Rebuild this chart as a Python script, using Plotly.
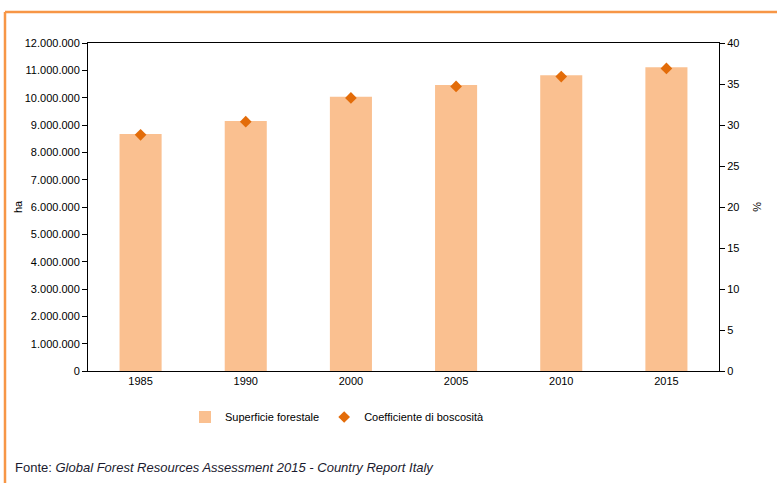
import plotly.graph_objects as go

years = ["1985", "1990", "2000", "2005", "2010", "2015"]
superficie = [8675100, 9150000, 10030000, 10467533, 10820000, 11110000]
coefficiente = [28.8, 30.4, 33.3, 34.7, 35.9, 36.9]
left_ticks = list(range(0, 12000001, 1000000))
left_labels = [f"{v:,}".replace(",", ".") for v in left_ticks]
right_ticks = list(range(0, 41, 5))

BAR = "#FAC090"
DIAM = "#E36C09"
BORDER = "#F79646"
FONT = "Liberation Sans, Arial, sans-serif"

fig = go.Figure()
fig.add_trace(go.Bar(x=years, y=superficie, name="Superficie forestale",
                     marker=dict(color=BAR, line=dict(width=0)), width=0.4))
fig.add_trace(go.Scatter(x=years, y=coefficiente, name="Coefficiente di boscosità",
                         mode="markers", yaxis="y2",
                         marker=dict(symbol="diamond", color=DIAM, size=9)))

L, R, T, B = 88, 58, 43, 112
W, H = 777, 483
pw, ph = W - L - R, H - T - B

def px(x):
    return (x - L) / pw

def py(y):
    return (H - B - y) / ph

fig.update_layout(
    width=W, height=H,
    margin=dict(l=L, r=R, t=T, b=B),
    paper_bgcolor="white", plot_bgcolor="white",
    font=dict(family=FONT, size=11, color="#000000"),
    showlegend=True,
    legend=dict(orientation="h", x=px(185), xanchor="left", y=py(417), yanchor="middle",
                font=dict(size=11), traceorder="normal",
                itemwidth=30, bgcolor="rgba(0,0,0,0)"),
    xaxis=dict(type="category", showline=True, linecolor="black", linewidth=1,
               mirror=True, ticks="", showgrid=False, tickfont=dict(size=11)),
    yaxis=dict(range=[0, 12000000], tickvals=left_ticks, ticktext=left_labels,
               showline=True, linecolor="black", linewidth=1, ticks="outside",
               ticklen=5, tickcolor="black", showgrid=False, zeroline=False,
               tickfont=dict(size=11)),
    yaxis2=dict(range=[0, 40], tickvals=right_ticks, overlaying="y", side="right",
                showline=True, linecolor="black", linewidth=1, ticks="outside",
                ticklen=5, tickcolor="black", showgrid=False, zeroline=False,
                tickfont=dict(size=11)),
    bargap=0.6,
)

fig.add_annotation(text="ha", xref="paper", yref="paper", x=px(18), y=py(207),
                   xanchor="center", yanchor="middle",
                   textangle=-90, showarrow=False, font=dict(size=11))
fig.add_annotation(text="%", xref="paper", yref="paper", x=px(757), y=py(207),
                   xanchor="center", yanchor="middle",
                   textangle=90, showarrow=False, font=dict(size=11))
fig.add_annotation(text="Fonte: <i>Global Forest Resources Assessment 2015 - Country Report Italy</i>",
                   xref="paper", yref="paper", x=px(13), y=py(467), xanchor="left",
                   yanchor="middle", showarrow=False, font=dict(size=13, color="#1a1a2e"))

# orange frame (top and left edges)
fig.add_shape(type="line", xref="paper", yref="paper", x0=px(5), x1=px(790),
              y0=py(12), y1=py(12), line=dict(color=BORDER, width=2.5))
fig.add_shape(type="line", xref="paper", yref="paper", x0=px(5), x1=px(5),
              y0=py(12), y1=py(495), line=dict(color=BORDER, width=2.5))

fig.write_html("out.html", config={"displayModeBar": False},
               post_script="document.body.style.margin='0';document.body.style.overflow='hidden';")
